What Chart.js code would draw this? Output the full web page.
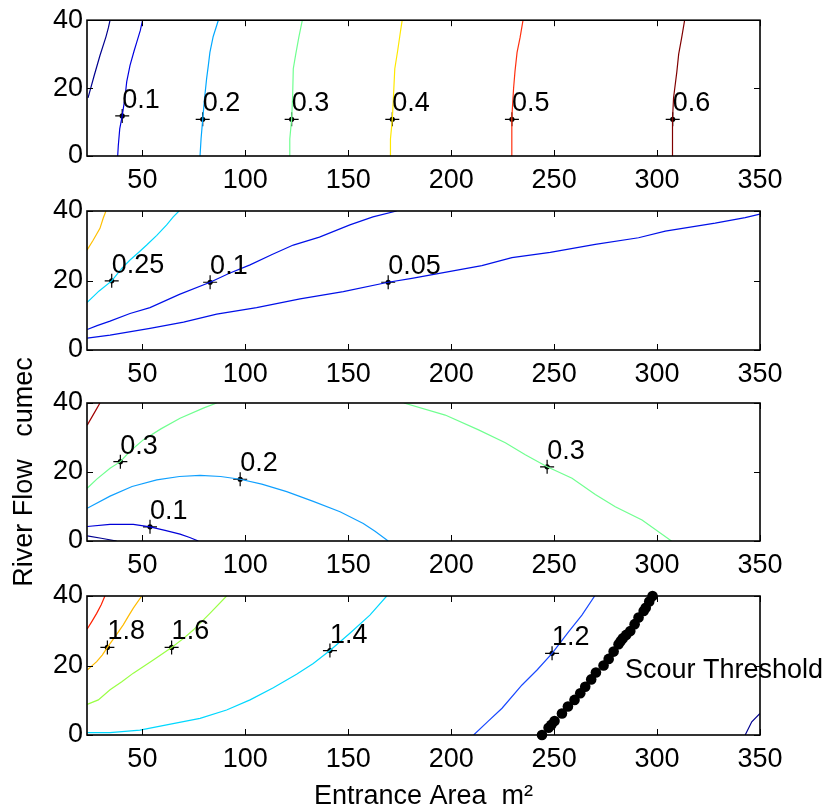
<!DOCTYPE html>
<html>
<head>
<meta charset="utf-8">
<script src="https://cdn.jsdelivr.net/npm/chart.js@4.4.1/dist/chart.umd.min.js"></script>
<style>
  body { margin: 0; background: #fff; }
  #wrap { position: relative; width: 824px; height: 807px; }
  #wrap canvas { position: absolute; left: 0; top: 0; }
</style>
</head>
<body>
<div id="wrap">
  <canvas id="p1" width="824" height="807"></canvas>
  <canvas id="p2" width="824" height="807"></canvas>
  <canvas id="p3" width="824" height="807"></canvas>
  <canvas id="p4" width="824" height="807"></canvas>
</div>
<script>
// axis ticks
const xTicks = [50, 100, 150, 200, 250, 300, 350];
const yTicks = [0, 20, 40];
const xMin = 23.1, xMax = 350;

// panel 1 contours  [entrance area, river flow]
const p1Line00 = [[23.6,17.1],[26.5,23.5],[29.4,29.6],[32.3,35.1],[33.5,37.8],[34.3,40]];
const p1Line01 = [[38,0],[38.3,3],[39,8],[40.2,11.8],[41.5,17],[42.4,21.9],[44,26.7],[46,31],[47.2,33.4],[49,37],[50.1,40]];
const p1Line02 = [[78,0],[78.5,5],[79.3,10.8],[80.2,17],[81.2,22.8],[82.1,27],[82.8,30.5],[84.4,35.2],[86.9,40]];
const p1Line03 = [[121.4,0],[121.6,5],[122.5,10.8],[123,18],[123.3,25.7],[124.5,30],[126,35],[127.7,40]];
const p1Line04 = [[170.3,0],[170.5,5],[171.4,10.8],[172,18],[172.6,25.7],[174,31],[175.2,36],[176.2,40]];
const p1Line05 = [[229.4,0],[229.4,6],[229.5,11.3],[230.3,19.9],[231,25],[232,30.5],[233.5,35],[234.9,40]];
const p1Line06 = [[307.4,0],[307.4,6],[307.6,10.8],[308,17.1],[309.6,24.8],[310.5,30],[312,35],[313.4,40]];
const p1LabelText = ['0.1', '0.2', '0.3', '0.4', '0.5', '0.6'];
const p1LabelX = [40.2, 79.3, 122.5, 171.4, 229.5, 307.6];
const p1LabelY = [11.8, 10.8, 10.8, 10.8, 10.8, 10.8];

// panel 2 contours
const p2Line30 = [[23.1,28.7],[26,31.5],[29.4,35],[31,38],[32.3,40]];
const p2Line25 = [[23.2,13.7],[29,17],[35.1,19.9],[40,23.5],[44,25.9],[48,28],[52.1,30.2],[57,33],[61.8,36],[65,38.3],[67.8,40]];
const p2Line10 = [[23.2,5.9],[28,7],[34.3,8.3],[44,10.5],[53.7,12.2],[68,16],[82.9,19.5],[92,22],[102.3,24.5],[113,27.5],[123.3,30.2],[136,32.5],[150.8,36],[162,38.3],[173.5,40]];
const p2Line05 = [[23.2,3.4],[34.3,4.3],[53.7,6.2],[70,8],[86.1,10.3],[105.5,12.2],[126.6,14.7],[147.6,16.8],[169.4,19.5],[180.9,20.6],[214.9,24.3],[229.5,26.6],[248.1,28.1],[270,30.4],[291,32.3],[304,34.2],[328.2,36.5],[342.8,38.1],[350,39.1]];
const p2LabelText = ['0.25', '0.1', '0.05'];
const p2LabelX = [35.1, 82.9, 169.4];
const p2LabelY = [19.9, 19.5, 19.5];

// panel 3 contours
const p3Line40 = [[23.2,33.6],[27,37.5],[29.4,40]];
const p3Line30a = [[23.2,15.3],[28,18],[34.3,21.1],[39.3,23],[44,26],[50.4,29.3],[59,32.5],[68.3,35.6],[79.6,38.5],[86.1,40]];
const p3Line30b = [[177,40],[197.1,36.5],[213.3,32.2],[226.3,28.5],[236,25],[246.6,21.5],[258.7,18.2],[270,13.5],[279.7,9.9],[292.7,6.1],[307,0]];
const p3Line20 = [[23.2,9.5],[34.3,13],[45,15.8],[57,17.7],[68,18.7],[78,19],[88,18.7],[97.5,17.9],[108,16.5],[120.1,14.3],[133,11.5],[146,8.5],[157.3,5.1],[163,2.8],[169.4,0]];
const p3Line10 = [[23.2,4.2],[34.3,4.8],[45.6,4.8],[53.7,4.1],[61,3.1],[68.3,2],[73,1],[77.2,0]];
const p3Line05 = [[23.2,1.5],[30,0.8],[37.5,0]];
const p3LabelText = ['0.3', '0.2', '0.1', '0.3'];
const p3LabelX = [39.3, 97.5, 53.7, 246.6];
const p3LabelY = [23, 17.9, 4.1, 21.5];

// panel 4 contours
const p4Line20 = [[23.2,30.5],[25.5,32.7],[27.8,35],[30,37.5],[31.8,40]];
const p4Line18 = [[23.2,18.7],[27.8,21.1],[30.5,23],[33,25.2],[37,28.5],[40.7,31.7],[43,34],[45.6,36.5],[49.7,40]];
const p4Line16 = [[23.2,8.8],[28.6,10.1],[34.3,13],[40,15.3],[45.6,17.8],[55.3,21.6],[64.2,25.2],[70,27.8],[74.7,30.2],[82.8,35],[90.9,40]];
const p4Line14 = [[23.2,0.7],[34.3,0.7],[48.8,1.4],[61.8,2.9],[78,4.8],[90.9,7.2],[102.3,10.1],[113.6,13.6],[124.9,17.5],[133,20.6],[141.1,24.3],[150.8,29.3],[160.5,34.5],[168.7,40]];
const p4Line12 = [[210.9,0],[218,4],[224.7,7.7],[234.4,14.4],[241.7,18.7],[249,23.5],[257,29.7],[263.5,34.5],[269.7,40]];
const p4Line10 = [[342.8,0],[346,3.8],[350,6.2]];
const p4LabelText = ['1.8', '1.6', '1.4', '1.2'];
const p4LabelX = [33, 64.2, 141.1, 249];
const p4LabelY = [25.2, 25.2, 24.3, 23.5];
const scourX = [244.1,247.3,248.6,250.2,253.8,256.7,259.9,262.7,265.1,268.0,270.3,274.0,276.5,278.9,281.3,282.3,283.3,285,287.0,289.1,291.0,293.5,294.5,296.2,297.8];
const scourY = [0,2.1,2.9,4.0,6.2,8.2,10.1,12.0,13.9,16.0,18.0,20.0,21.9,24.0,26.1,27,27.8,28.8,29.9,31.9,33.8,35.7,36.6,38.4,40];
const scourText = 'Scour Threshold';
const scourTextX = 284.4, scourTextY = 16.4;

const FONT_FAMILY = "'Liberation Sans', Arial, sans-serif";
const FONT = { family: FONT_FAMILY, size: 27 };

function pts(arr) {
  return arr.map(p => ({ x: p[0], y: p[1] }));
}

function makePanel(id, top, bottom, lines, labels, extra) {
  const datasets = lines.map(l => ({
    data: pts(l.data),
    showLine: true,
    borderColor: l.color,
    borderWidth: 1.2,
    pointRadius: 0,
    tension: 0
  }));
  const markPts = labels.x.map((x, i) => ({ x: x, y: labels.y[i] }));
  datasets.push({ data: markPts, pointStyle: 'cross', pointRadius: 7, borderColor: '#000', borderWidth: 1.2, clip: false });
  datasets.push({ data: markPts, pointStyle: 'circle', pointRadius: 2.6, backgroundColor: '#000', borderWidth: 0, clip: false });
  if (extra && extra.scour) {
    datasets.push({
      data: extra.scour.x.map((x, i) => ({ x: x, y: extra.scour.y[i] })),
      pointStyle: 'circle', pointRadius: 5.3, backgroundColor: '#000', borderWidth: 0, clip: false
    });
  }

  // box with inward ticks and contour labels
  const boxPlugin = {
    id: 'box' + id,
    afterDatasetsDraw(chart) {
      const ctx = chart.ctx;
      const a = chart.chartArea;
      const xs = chart.scales.x, ys = chart.scales.y;
      ctx.save();
      ctx.strokeStyle = '#000';
      ctx.lineWidth = 1;
      ctx.beginPath();
      xTicks.forEach(v => {
        const px = Math.round(xs.getPixelForValue(v)) + 0.5;
        ctx.moveTo(px, a.bottom); ctx.lineTo(px, a.bottom - 6);
        ctx.moveTo(px, a.top); ctx.lineTo(px, a.top + 6);
      });
      yTicks.forEach(v => {
        const py = Math.round(ys.getPixelForValue(v)) + 0.5;
        ctx.moveTo(a.left, py); ctx.lineTo(a.left + 6, py);
        ctx.moveTo(a.right, py); ctx.lineTo(a.right - 6, py);
      });
      ctx.stroke();
      ctx.lineWidth = 1.6;
      ctx.strokeRect(a.left, a.top, a.right - a.left, a.bottom - a.top);

      ctx.fillStyle = '#000';
      ctx.font = FONT.size + 'px ' + FONT_FAMILY;
      ctx.textAlign = 'left';
      ctx.textBaseline = 'alphabetic';
      labels.text.forEach((t, i) => {
        ctx.fillText(t, xs.getPixelForValue(labels.x[i]), ys.getPixelForValue(labels.y[i]) - 8);
      });
      if (extra && extra.note) {
        ctx.fillText(extra.note.text, xs.getPixelForValue(extra.note.x), ys.getPixelForValue(extra.note.y));
      }
      ctx.restore();
    }
  };

  const xAxisHeight = 807 - bottom;
  return new Chart(document.getElementById(id), {
    type: 'scatter',
    data: { datasets: datasets },
    options: {
      responsive: false,
      animation: false,
      events: [],
      layout: { padding: { top: top, right: 64, bottom: 0, left: 0 } },
      plugins: { legend: { display: false }, tooltip: { enabled: false } },
      scales: {
        x: {
          type: 'linear', min: xMin, max: xMax,
          afterBuildTicks: s => { s.ticks = xTicks.map(v => ({ value: v })); },
          afterFit: s => { s.height = xAxisHeight; },
          grid: { display: false, drawTicks: false },
          border: { display: false },
          ticks: { color: '#000', font: FONT, padding: 8, maxRotation: 0 },
          title: extra && extra.xTitle ? {
            display: true, text: extra.xTitle, color: '#000', font: FONT, padding: { top: 0, bottom: -6 }
          } : { display: false }
        },
        y: {
          type: 'linear', min: 0, max: 40,
          afterBuildTicks: s => { s.ticks = yTicks.map(v => ({ value: v })); },
          afterFit: s => { s.width = 87; },
          grid: { display: false, drawTicks: false },
          border: { display: false },
          ticks: { color: '#000', font: FONT, padding: 4 },
          title: extra && extra.yTitle ? {
            display: true, text: extra.yTitle, color: '#000', font: FONT, padding: { top: 8, bottom: 0 }
          } : { display: false }
        }
      }
    },
    plugins: [boxPlugin]
  });
}

makePanel('p1', 17, 156, [
  { data: p1Line00, color: '#00008f' },
  { data: p1Line01, color: '#0000e0' },
  { data: p1Line02, color: '#00a8ff' },
  { data: p1Line03, color: '#70ff90' },
  { data: p1Line04, color: '#ffe800' },
  { data: p1Line05, color: '#ff3010' },
  { data: p1Line06, color: '#800000' }
], { text: p1LabelText, x: p1LabelX, y: p1LabelY });

makePanel('p2', 211, 350, [
  { data: p2Line30, color: '#ffbf00' },
  { data: p2Line25, color: '#00d8ff' },
  { data: p2Line10, color: '#0010e8' },
  { data: p2Line05, color: '#0010e8' }
], { text: p2LabelText, x: p2LabelX, y: p2LabelY });

makePanel('p3', 403, 541, [
  { data: p3Line40, color: '#a00000' },
  { data: p3Line30a, color: '#70ff90' },
  { data: p3Line30b, color: '#70ff90' },
  { data: p3Line20, color: '#10a0ff' },
  { data: p3Line10, color: '#0000d8' },
  { data: p3Line05, color: '#000090' }
], { text: p3LabelText, x: p3LabelX, y: p3LabelY }, { yTitle: 'River Flow   cumec' });

makePanel('p4', 596, 735, [
  { data: p4Line20, color: '#ff2000' },
  { data: p4Line18, color: '#ffbb00' },
  { data: p4Line16, color: '#99ff44' },
  { data: p4Line14, color: '#00d8ff' },
  { data: p4Line12, color: '#1848ff' },
  { data: p4Line10, color: '#000090' }
], { text: p4LabelText, x: p4LabelX, y: p4LabelY }, {
  scour: { x: scourX, y: scourY },
  note: { text: scourText, x: scourTextX, y: scourTextY },
  xTitle: 'Entrance Area  m²'
});
</script>
</body>
</html>
